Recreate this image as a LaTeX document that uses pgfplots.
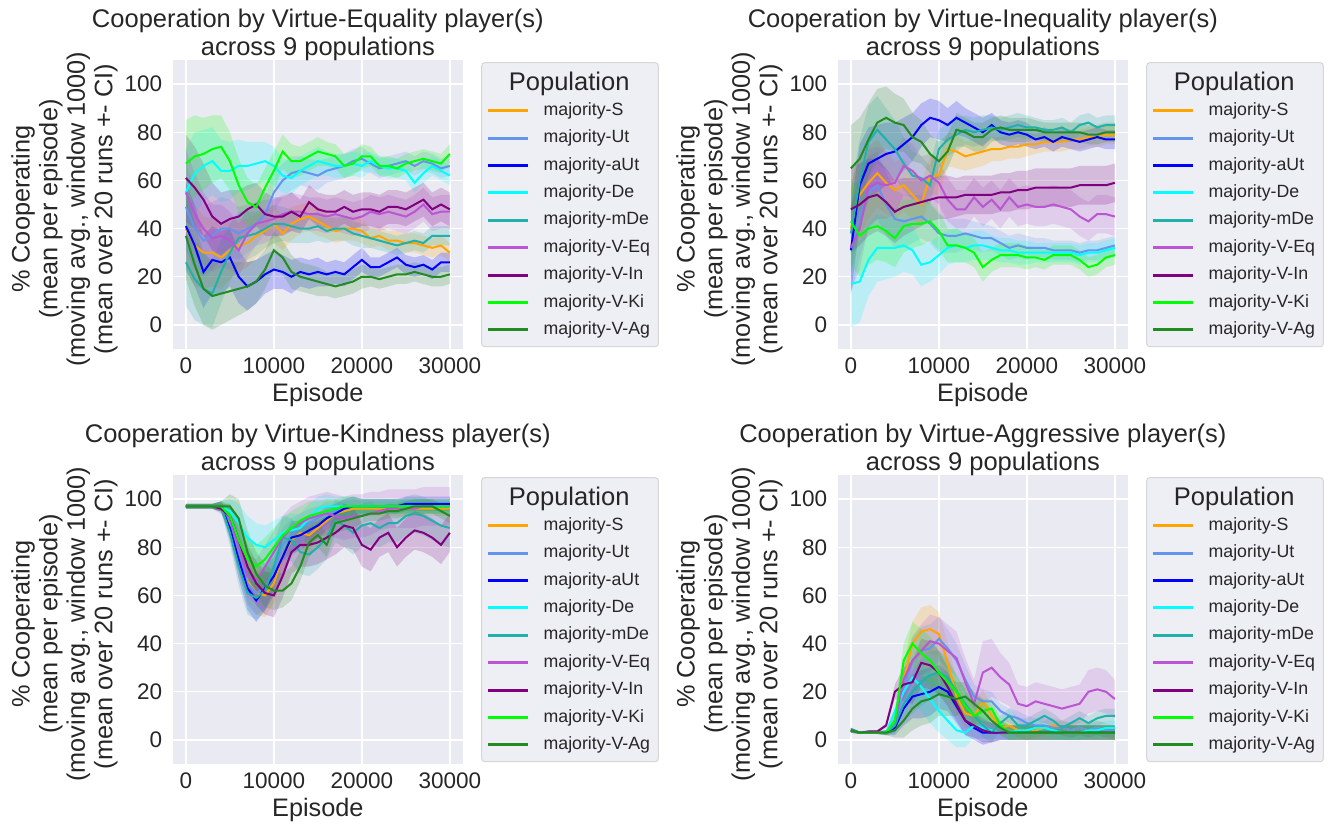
\documentclass[border=0pt]{standalone}
\usepackage{fontspec}
\setmainfont{Liberation Sans}
\usepackage{pgfplots}
\pgfplotsset{compat=1.18}
\usepackage{pgfplotstable}
\usepgfplotslibrary{fillbetween}

\definecolor{cS}{HTML}{FFA500}
\definecolor{cUt}{HTML}{6495ED}
\definecolor{caUt}{HTML}{0000FF}
\definecolor{cDe}{HTML}{00FFFF}
\definecolor{cmDe}{HTML}{20B2AA}
\definecolor{cVEq}{HTML}{BA55D3}
\definecolor{cVIn}{HTML}{800080}
\definecolor{cVKi}{HTML}{00FF00}
\definecolor{cVAg}{HTML}{228B22}
\definecolor{bgc}{HTML}{EAEAF2}
\definecolor{tc}{HTML}{262626}
\definecolor{legbg}{HTML}{EEEEF5}
\definecolor{legbd}{HTML}{D6D6D6}

\pgfplotstableread{
x S Ut aUt De mDe VEq VIn VKi VAg e f
0 40 49 41 55 26 55 61 67 37 18 18
1000 33 40 33 63 19 46 57 70 25 17 17
2000 30 35 22 66 15 40 52 71 15 15 15
3000 30 37 27 68 13 36 45 73 12 14 14
4000 28 40 26 64 22 37 42 74 13 13 13
5000 31 40 28 64 30 35 44 68 14 12 12
6000 33 38 20 66 36 31 45 58 15 11 11
7000 34 40 16 66 37 38 48 51 16 10 10
8000 37 42 18 67 38 42 50 49 18 9 9
9000 39 46 21 68 40 43 46 57 23 8 9
10000 42 55 23 66 42 44 45 64 31 8 8
11000 38 60 22 62 42 46 45 72 28 7 8
12000 42 63 20 61 41 47 47 68 22 7 8
13000 44 64 22 64 40 47 45 68 20 6 7
14000 45 63 21 66 40 46 51 70 19 6 7
15000 43 62 22 68 41 46 48 72 18 6 7
16000 41 64 21 67 39 45 47 71 17 5 7
17000 39 65 22 66 40 46 47 70 16 5 7
18000 40 66 21 66 40 45 49 66 17 5 7
19000 40 68 24 67 38 44 47 67 18 5 7
20000 39 69 27 66 37 45 48 70 20 5 7
21000 36 67 24 68 36 47 48 70 20 4 7
22000 37 65 24 66 35 46 47 66 19 4 7
23000 35 66 26 65 34 47 49 66 20 4 7
24000 35 67 28 65 33 46 49 65 21 4 7
25000 34 68 25 64 34 45 48 67 21 4 7
26000 34 66 24 59 35 47 50 68 22 4 7
27000 33 68 25 63 34 50 52 69 21 4 7
28000 32 67 23 66 37 46 48 68 20 4 7
29000 33 65 26 64 37 47 50 67 20 4 7
30000 30 66 26 62 37 47 48 71 21 4 7
}\tabA

\pgfplotstableread{
x S Ut aUt De mDe VEq VIn VKi VAg e f
0 40 31 31 17 38 32 48 43 65 18 18
1000 54 45 58 18 60 40 50 37 69 17 17
2000 59 55 67 27 76 57 53 40 77 15 16
3000 63 58 69 32 81 59 54 41 84 14 15
4000 59 50 71 32 77 58 51 39 86 13 14
5000 56 44 72 32 73 59 47 36 84 12 13
6000 58 43 75 33 67 66 49 41 83 11 12
7000 54 44 78 31 62 64 50 42 78 10 11
8000 50 45 83 25 61 60 51 42 76 9 10
9000 62 42 86 26 58 62 52 43 71 8 9
10000 62 38 85 29 73 59 53 39 68 8 9
11000 73 37 83 32 77 52 53 33 72 7 9
12000 72 37 86 33 79 48 53 33 81 7 8
13000 70 38 84 32 81 48 54 32 80 6 8
14000 71 37 82 33 80 53 54 30 78 6 8
15000 72 36 80 33 81 49 54 24 78 6 8
16000 73 36 83 32 82 52 54 27 81 5 8
17000 73 34 80 31 81 48 55 29 82 5 8
18000 74 32 79 31 82 53 55 29 81 5 8
19000 74 33 80 30 83 49 56 29 81 5 8
20000 75 32 79 30 82 50 56 28 81 5 8
21000 75 32 77 30 82 49 57 28 81 4 8
22000 76 32 78 30 81 49 57 27 80 4 8
23000 76 31 76 30 81 50 57 29 80 4 8
24000 76 31 78 30 82 49 57 29 80 4 8
25000 77 31 77 30 80 48 57 29 80 4 8
26000 77 30 76 29 83 45 58 27 80 4 8
27000 78 31 77 30 84 43 58 24 79 4 8
28000 78 31 78 30 82 46 58 25 79 4 8
29000 79 32 77 31 83 46 58 28 80 4 8
30000 79 33 77 32 83 45 59 29 80 4 8
}\tabB

\pgfplotstableread{
x S Ut aUt De mDe VEq VIn VKi VAg e f
0 97 97 97 97 97 97 97 97 97 1 1
1000 97 97 97 97 97 97 97 97 97 1 1
2000 97 97 97 97 97 97 97 97 97 1 1
3000 97 97 97 97 97 97 97 97 97 1 1
4000 97 97 97 97 97 97 96 97 97 2 2
5000 89 91 88 95 86 92 93 93 97 5 5
6000 77 78 75 90 72 80 83 83 92 8 8
7000 66 65 63 84 61 68 72 75 78 9 9
8000 61 61 58 81 59 66 65 72 69 9 9
9000 60 63 63 80 62 72 61 75 64 9 9
10000 65 70 68 83 72 78 60 80 62 8 9
11000 76 81 76 86 84 84 68 85 62 7 9
12000 83 85 84 87 83 88 78 88 65 7 9
13000 86 88 85 88 78 90 81 91 72 6 9
14000 85 90 87 92 77 92 81 93 82 6 9
15000 88 92 89 96 80 93 82 94 85 5 9
16000 91 94 92 97 84 94 84 95 81 5 9
17000 94 95 94 97 91 93 86 96 90 4 9
18000 95 96 96 97 89 92 89 97 91 4 9
19000 96 97 97 97 86 93 88 97 92 4 9
20000 96 97 97 97 89 93 81 97 93 3 9
21000 96 97 97 97 90 94 79 97 94 3 9
22000 96 97 97 97 88 95 84 97 94 3 8
23000 96 97 97 97 90 96 86 97 95 3 8
24000 96 97 97 97 90 96 80 97 95 3 8
25000 96 97 98 97 93 96 84 97 96 3 8
26000 96 97 98 97 94 96 87 97 97 3 8
27000 96 97 98 97 93 97 86 97 97 3 8
28000 96 97 98 97 91 97 84 97 97 3 8
29000 96 97 98 97 89 97 81 97 95 3 8
30000 96 97 98 97 88 97 86 97 93 3 8
}\tabC

\pgfplotstableread{
x S Ut aUt De mDe VEq VIn VKi VAg e f
0 4 4 4 4 4 4 4 4 4 1 1
1000 3 3 3 3 3 3 3 3 3 0.5 0.5
2000 3 3 3 3 3 3 3.5 3 3 0.5 0.5
3000 3 3 3 3 3 3 3.5 3 3 0.5 0.5
4000 3 3 3 3 3 3 6 3 3 1 1
5000 7 6 5 12 6 8 20 8 4 3 4
6000 25 22 13 20 15 25 23 33 8 7 8
7000 40 33 18 26 20 33 24 40 13 9 10
8000 45 37 19 22 24 37 32 36 16 10 11
9000 46 38 20 17 27 41 31 33 17 10 11
10000 44 42 22 12 28 40 28 28 19 9 11
11000 32 38 20 8 26 37 22 24 18 8 11
12000 18 33 14 4 20 34 15 20 17 7 11
13000 11 25 8 3 15 24 8 14 18 6 10
14000 10 18 5 6 10 15 6 10 15 5 10
15000 16 16 3 5 6 28 4 12 12 5 13
16000 10 16 3 4 3 30 3 13 8 4 12
17000 5 12 3 3 7 26 3 6 5 3 10
18000 6 10 3 3 10 23 3 3 3 3 9
19000 4 9 3 4 6 15 3 3 3 3 8
20000 3 7 3 4 6 14 3 3 3 3 8
21000 4 6 3 5 8 16 3 3 3 3 8
22000 5 6 3 5 10 15 3 3 3 3 8
23000 6 5 3 4 8 14 3 3 3 3 8
24000 5 5 3 3 5 13 3 3 3 3 8
25000 4 4 3 3 7 14 3 3 3 3 8
26000 5 5 3 3 9 15 3 3 3 3 8
27000 4 4 3 4 7 20 3 3 3 3 9
28000 5 5 3 4 9 21 3 3 3 3 9
29000 4 4 3 5 10 20 3 3 3 3 9
30000 3 4 3 5 10 17 3 3 3 3 8
}\tabD

\newcommand{\band}[4]{%
  \addplot[draw=none, forget plot, name path=#2lo] table[x=x, y expr=\thisrow{#2}-\thisrow{#3}]{#1};
  \addplot[draw=none, forget plot, name path=#2hi] table[x=x, y expr=\thisrow{#2}+\thisrow{#3}]{#1};
  \addplot[fill=#4, fill opacity=0.2, draw=none, forget plot] fill between[of=#2lo and #2hi];
}

\newcommand{\serieslines}[1]{%
  \addplot[cS, line width=1bp] table[x=x,y=S]{#1}; \addlegendentry{majority-S}
  \addplot[cUt, line width=1bp] table[x=x,y=Ut]{#1}; \addlegendentry{majority-Ut}
  \addplot[caUt, line width=1bp] table[x=x,y=aUt]{#1}; \addlegendentry{majority-aUt}
  \addplot[cDe, line width=1bp] table[x=x,y=De]{#1}; \addlegendentry{majority-De}
  \addplot[cmDe, line width=1bp] table[x=x,y=mDe]{#1}; \addlegendentry{majority-mDe}
  \addplot[cVEq, line width=1bp] table[x=x,y=VEq]{#1}; \addlegendentry{majority-V-Eq}
  \addplot[cVIn, line width=1bp] table[x=x,y=VIn]{#1}; \addlegendentry{majority-V-In}
  \addplot[cVKi, line width=1bp] table[x=x,y=VKi]{#1}; \addlegendentry{majority-V-Ki}
  \addplot[cVAg, line width=1bp] table[x=x,y=VAg]{#1}; \addlegendentry{majority-V-Ag}
}

\newcommand{\legbox}{%
  \draw[legbd, fill=legbg, rounded corners=1.5bp, line width=0.5bp]
    (rel axis cs:1.0644,0.9906) rectangle (rel axis cs:1.6728,0.008);
  \node[anchor=base, font=\fontsize{12.8}{14}\selectfont, text=tc, inner sep=0pt]
    at (rel axis cs:1.3658,0.8962) {Population};
}

\pgfplotsset{
  panel/.style={
    width=145.15bp, height=144.5bp, scale only axis,
    xmin=-1500, xmax=31500, ymin=-10, ymax=110,
    xtick={0,10000,20000,30000}, ytick={0,20,40,60,80,100},
    scaled x ticks=false,
    /pgf/number format/1000 sep={},
    /pgf/number format/assume math mode=true,
    axis background/.style={fill=bgc},
    axis line style={draw=none},
    major tick length=0pt,
    grid=major, major grid style={white, line width=0.7bp},
    clip=false,
    tick label style={font=\fontsize{11.3}{13}\selectfont, text=tc},
    yticklabel style={xshift=-1.7bp},
    xticklabel style={yshift=-0.9bp},
    title style={at={(0.5,1)}, anchor=south, inner sep=0pt, yshift=-6.5bp,
      font=\fontsize{12.8}{14}\selectfont, text=tc, align=center},
    xlabel={Episode},
    xlabel style={at={(rel axis cs:0.5,-0.1824)}, anchor=base,
      font=\fontsize{12.7}{14}\selectfont, text=tc},
    ylabel={\% Cooperating\\(mean per episode)\\(moving avg., window 1000)\\(mean over 20 runs +- CI)},
    ylabel style={at={(rel axis cs:-0.3727,0.484)}, anchor=center, align=center,
      font=\fontsize{12.7}{13.85}\selectfont, text=tc},
    legend image code/.code={\draw[##1, line width=1.5bp] (0bp,0bp) -- (20bp,0bp);},
    legend cell align=left,
    legend style={at={(1.0814,0.8533)}, anchor=north west, draw=none, fill=none,
      inner sep=0pt, outer sep=0pt, font=\fontsize{8.9}{10}\selectfont, text=tc,
      nodes={inner sep=0pt, text height=6.4bp, text depth=1.9bp},
      row sep=5.4bp, column sep=7bp},
  }
}

\begin{document}
\begin{tikzpicture}

\begin{axis}[panel, at={(86.35bp,-174.5bp)}, anchor=south west,
  title={Cooperation by Virtue-Equality player(s)\\across 9 populations}]
  \band{\tabA}{S}{e}{cS}
  \band{\tabA}{Ut}{e}{cUt}
  \band{\tabA}{aUt}{e}{caUt}
  \band{\tabA}{De}{e}{cDe}
  \band{\tabA}{mDe}{e}{cmDe}
  \band{\tabA}{VEq}{f}{cVEq}
  \band{\tabA}{VIn}{f}{cVIn}
  \band{\tabA}{VKi}{e}{cVKi}
  \band{\tabA}{VAg}{e}{cVAg}
  \serieslines{\tabA}
  \legbox
\end{axis}

\begin{axis}[panel, at={(418.85bp,-174.5bp)}, anchor=south west,
  title={Cooperation by Virtue-Inequality player(s)\\across 9 populations}]
  \band{\tabB}{S}{e}{cS}
  \band{\tabB}{Ut}{e}{cUt}
  \band{\tabB}{aUt}{e}{caUt}
  \band{\tabB}{De}{e}{cDe}
  \band{\tabB}{mDe}{e}{cmDe}
  \band{\tabB}{VEq}{f}{cVEq}
  \band{\tabB}{VIn}{f}{cVIn}
  \band{\tabB}{VKi}{e}{cVKi}
  \band{\tabB}{VAg}{e}{cVAg}
  \serieslines{\tabB}
  \legbox
\end{axis}

\begin{axis}[panel, at={(86.35bp,-382bp)}, anchor=south west,
  title={Cooperation by Virtue-Kindness player(s)\\across 9 populations}]
  \band{\tabC}{S}{e}{cS}
  \band{\tabC}{Ut}{e}{cUt}
  \band{\tabC}{aUt}{e}{caUt}
  \band{\tabC}{De}{e}{cDe}
  \band{\tabC}{mDe}{f}{cmDe}
  \band{\tabC}{VEq}{f}{cVEq}
  \band{\tabC}{VIn}{f}{cVIn}
  \band{\tabC}{VKi}{e}{cVKi}
  \band{\tabC}{VAg}{e}{cVAg}
  \serieslines{\tabC}
  \legbox
\end{axis}

\begin{axis}[panel, at={(418.85bp,-382bp)}, anchor=south west,
  title={Cooperation by Virtue-Aggressive player(s)\\across 9 populations}]
  \band{\tabD}{S}{e}{cS}
  \band{\tabD}{Ut}{e}{cUt}
  \band{\tabD}{aUt}{e}{caUt}
  \band{\tabD}{De}{e}{cDe}
  \band{\tabD}{mDe}{e}{cmDe}
  \band{\tabD}{VEq}{f}{cVEq}
  \band{\tabD}{VIn}{e}{cVIn}
  \band{\tabD}{VKi}{e}{cVKi}
  \band{\tabD}{VAg}{e}{cVAg}
  \serieslines{\tabD}
  \legbox
\end{axis}

\pgfresetboundingbox
\path[use as bounding box] (0bp,0bp) rectangle (664bp,-413bp);
\end{tikzpicture}
\end{document}
